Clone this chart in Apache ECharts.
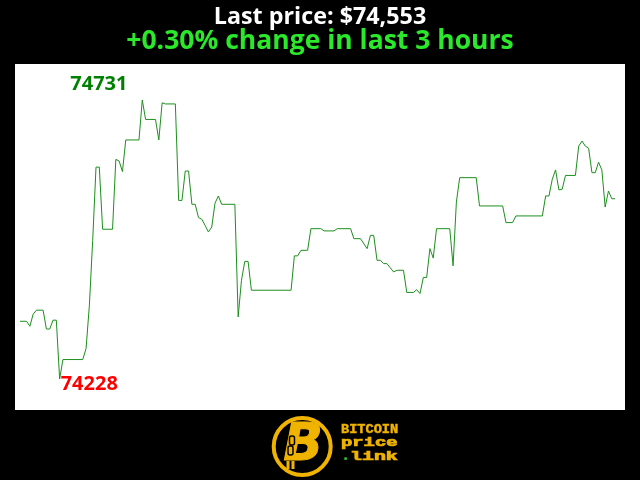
<!DOCTYPE html>
<html>
<head>
<meta charset="utf-8">
<script src="https://cdn.jsdelivr.net/npm/echarts@6/dist/echarts.min.js"></script>
<style>html,body{margin:0;padding:0;background:#000;}#c{width:640px;height:480px;}</style>
</head>
<body>
<div id="c"></div>
<script>
// minutes since start (3-hour window), vertices of the price path
const minutes = [0,2,3,4,5,7,8,9,10,11,12,13,19,20,21,22,23,24,25,28,29,30,31,32,36,37,38,41,42,43,44,47,48,49,50,51,52,53,54,55,56,57,58,59,60,61,65,66,67,68,69,70,82,83,84,85,87,88,91,92,95,96,100,101,103,105,106,107,108,109,110,111,113,114,116,117,119,120,121,122,123,124,125,126,130,131,132,133,138,139,146,147,149,150,158,159,160,161,162,163,164,165,168,169,170,171,172,173,174,175,176,177,178,179,180];
const prices = [74332,74332,74323,74345,74352,74352,74318,74318,74334,74334,74228,74263,74263,74283,74361,74478,74610,74610,74498,74498,74624,74621,74602,74659,74659,74731,74696,74696,74659,74726,74724,74724,74550,74550,74603,74603,74543,74543,74519,74516,74505,74493,74502,74545,74558,74543,74543,74340,74406,74440,74440,74388,74388,74450,74450,74460,74460,74499,74499,74495,74495,74499,74499,74481,74481,74463,74487,74487,74442,74442,74436,74436,74421,74424,74424,74384,74384,74389,74382,74411,74411,74463,74446,74499,74499,74432,74547,74591,74591,74540,74540,74510,74510,74522,74522,74558,74558,74588,74605,74569,74570,74595,74595,74648,74657,74648,74644,74600,74600,74619,74605,74538,74567,74553,74553];
const titleText = 'Last price: $74,553';
const subtitleText = '+0.30% change in last 3 hours';
const highLabel = '74731';
const lowLabel = '74228';
const logoWords = ['BITCOIN', 'price', 'link'];

const series = minutes.map((m, i) => [m, prices[i]]);
const chart = echarts.init(document.getElementById('c'), null, {renderer: 'canvas'});
const gold = '#f0b400';
const mono = '"Liberation Mono", "DejaVu Sans Mono", monospace';

const baseGraphics = [
  {type: 'text', left: 'center', top: 6, style: {text: titleText, fill: '#fff', font: 'bold 23.3px "Open Sans", sans-serif'}},
  {type: 'text', left: 'center', top: 28, style: {text: subtitleText, fill: '#2be82b', font: 'bold 26.5px "Open Sans", sans-serif'}},
  {type: 'circle', shape: {cx: 302.2, cy: 446.5, r: 28.5}, style: {fill: '#000', stroke: gold, lineWidth: 4}},
  {type: 'rect', shape: {x: 291, y: 424, width: 3, height: 8}, style: {fill: gold}},
  {type: 'rect', shape: {x: 296, y: 424, width: 3, height: 8}, style: {fill: gold}},
  {type: 'rect', shape: {x: 286.5, y: 461, width: 3, height: 8}, style: {fill: gold}},
  {type: 'rect', shape: {x: 291.5, y: 461, width: 3, height: 8}, style: {fill: gold}},
  {type: 'text', x: 303, y: 446, style: {text: 'B', fill: gold, stroke: gold, lineWidth: 1, font: 'italic bold 52px "DejaVu Sans", sans-serif', textAlign: 'center', textVerticalAlign: 'middle'}},
  {type: 'rect', shape: {x: 289.5, y: 436, width: 5, height: 9, r: 2}, style: {fill: 'none', stroke: '#000', lineWidth: 1.5}},
  {type: 'rect', shape: {x: 288, y: 446, width: 5, height: 9, r: 2}, style: {fill: 'none', stroke: '#000', lineWidth: 1.5}},
  {type: 'text', x: 341, y: 430, style: {text: logoWords[0], fill: gold, stroke: gold, lineWidth: 0.5, font: 'bold 13.6px ' + mono, textVerticalAlign: 'middle'}},
  {type: 'text', x: 341, y: 443, scaleX: 1.57, style: {text: logoWords[1], fill: gold, stroke: gold, lineWidth: 0.7, font: 'bold 12px ' + mono, textVerticalAlign: 'middle'}},
  {type: 'rect', shape: {x: 344.3, y: 457.3, width: 2.6, height: 2.6}, style: {fill: '#2fc22f'}},
  {type: 'text', x: 350, y: 457, scaleX: 1.66, style: {text: logoWords[2], fill: gold, stroke: gold, lineWidth: 0.7, font: 'bold 12px ' + mono, textVerticalAlign: 'middle'}}
];

const option = {
  backgroundColor: '#000',
  animation: false,
  grid: {left: 15, right: 15, top: 64, bottom: 70, show: true, backgroundColor: '#fff', borderWidth: 0},
  xAxis: {type: 'value', min: -1.5, max: 183, show: false},
  yAxis: {type: 'value', min: 74172, max: 74796, show: false},
  series: [{
    type: 'line', data: series, showSymbol: false, symbol: 'none',
    lineStyle: {color: '#1d8f1d', width: 1}
  }],
  graphic: baseGraphics
};
chart.setOption(option);

const iMax = prices.indexOf(Math.max(...prices));
const iMin = prices.indexOf(Math.min(...prices));
const pMax = chart.convertToPixel({gridIndex: 0}, [minutes[iMax], prices[iMax]]);
const pMin = chart.convertToPixel({gridIndex: 0}, [minutes[iMin], prices[iMin]]);
chart.setOption({graphic: baseGraphics.concat([
  {type: 'text', x: pMax[0] - 72, y: pMax[1] - 16, style: {text: highLabel, fill: '#008000', font: 'bold 20px "Open Sans", sans-serif', textVerticalAlign: 'middle'}},
  {type: 'text', x: pMin[0] + 1, y: pMin[1] + 5, style: {text: lowLabel, fill: '#ff0000', font: 'bold 20px "Open Sans", sans-serif', textVerticalAlign: 'middle'}}
])}, {replaceMerge: ['graphic']});
</script>
</body>
</html>
